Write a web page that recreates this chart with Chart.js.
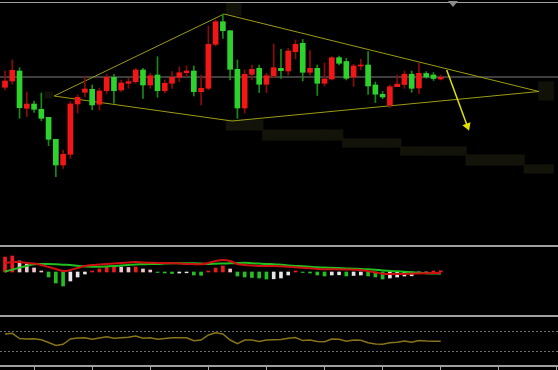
<!DOCTYPE html>
<html>
<head>
<meta charset="utf-8">
<script src="https://cdn.jsdelivr.net/npm/chart.js@4.4.1/dist/chart.umd.min.js"></script>
<style>
  html, body { margin: 0; padding: 0; background: #000; }
  #wrap { position: relative; width: 558px; height: 370px; background: #000; overflow: hidden; }
  #wrap canvas { position: absolute; left: 0; }
  .sep { position: absolute; left: 0; width: 558px; background: #a0a0a0; }
  .marker { position: absolute; left: 448px; top: 1px; width: 0; height: 0;
    border-left: 5px solid transparent; border-right: 5px solid transparent; border-top: 6px solid #8c8c8c; }
</style>
</head>
<body>
<div id="wrap">
  <canvas id="mainChart" width="558" height="245" style="top:0"></canvas>
  <canvas id="macdChart" width="558" height="68" style="top:247px"></canvas>
  <canvas id="oscChart" width="558" height="53" style="top:317px"></canvas>
  <div class="sep" style="top:2px;height:1px"></div>
  <div class="sep" style="top:245px;height:2px"></div>
  <div class="sep" style="top:315px;height:2px"></div>
  <div class="marker"></div>
</div>
<script>
// candles, one per session
const opens  = [35.77, 36.4, 37.4, 33.67, 34.1, 33.57, 32.77, 30.57, 28.0, 29.07,
                34.1, 35.27, 35.57, 34.07, 35.43, 36.77, 35.5, 36.17, 36.33, 37.5,
                36.0, 37.0, 35.43, 36.17, 36.77, 37.23, 37.4, 35.33, 35.67, 40.07,
                42.33, 41.43, 37.57, 33.7, 37.07, 37.67, 36.07, 36.93, 37.67, 37.4,
                39.33, 40.17, 37.27, 37.67, 36.17, 36.6, 38.73, 38.35, 36.8, 37.9,
                38.0, 36.0, 35.07, 34.0, 35.83, 36.05, 37.08, 35.7, 37.15, 37.0, 36.6];
const highs  = [37.4, 38.5, 37.73, 35.3, 34.4, 35.2, 32.77, 30.57, 29.5, 34.33,
                35.0, 36.83, 36.0, 35.7, 37.07, 37.07, 36.5, 36.67, 37.67, 37.67,
                37.17, 38.83, 36.5, 37.33, 37.83, 37.9, 37.9, 37.0, 41.9, 42.5,
                43.1, 41.43, 38.5, 37.5, 38.0, 38.0, 37.17, 40.1, 39.57, 39.65,
                40.5, 40.55, 39.45, 38.0, 38.2, 38.83, 38.9, 38.67, 38.07, 38.57,
                39.35, 36.3, 35.35, 36.0, 37.0, 37.4, 37.4, 38.2, 37.33, 37.25, 37.0];
const lows   = [35.5, 36.1, 32.67, 32.83, 33.27, 32.43, 29.93, 26.83, 27.67, 28.67,
                33.2, 34.83, 33.5, 33.5, 35.17, 34.17, 35.33, 35.67, 36.17, 34.67,
                35.67, 34.77, 35.2, 35.67, 36.33, 36.83, 34.9, 34.0, 35.5, 39.9,
                40.67, 36.5, 32.67, 33.2, 36.5, 35.25, 35.25, 36.7, 36.67, 37.0,
                38.6, 36.4, 37.0, 34.95, 35.9, 36.5, 38.0, 36.5, 35.85, 37.5,
                35.05, 34.25, 34.63, 33.73, 35.83, 35.67, 35.27, 35.17, 36.67, 36.45, 36.5];
const closes = [36.4, 37.47, 33.73, 34.1, 33.57, 32.67, 30.57, 28.0, 29.07, 34.1,
                34.77, 35.6, 34.0, 35.4, 36.77, 35.43, 36.2, 36.33, 37.5, 36.0,
                36.93, 35.43, 36.17, 36.77, 37.23, 37.4, 35.33, 35.67, 40.07, 42.33,
                41.43, 37.57, 33.7, 37.07, 37.57, 36.07, 36.93, 37.73, 37.43, 39.4,
                40.07, 37.27, 37.67, 36.17, 36.6, 38.73, 38.17, 36.67, 37.9, 38.0,
                35.9, 35.08, 34.8, 35.83, 36.08, 37.08, 35.67, 37.17, 36.8, 36.65, 36.77];

// drawn level and pattern
const levelPrice = 36.8;
const triangleIndex = [6.75, 30.16, 73.53, 31.26, 6.75];
const trianglePrice = [34.9, 43.1, 35.35, 32.4, 34.9];
const arrowIndex = [60.82, 63.66];
const arrowPrice = [37.5, 31.9];

// shaded projection band (steps)
const bandFrom = [31, 36, 47, 55, 64, 72];
const bandTo   = [35, 46, 54, 63, 71, 75];
const bandLow  = [31.5, 30.5, 29.8, 29.0, 28.0, 27.2];
const bandHigh = [32.5, 31.5, 30.6, 29.8, 29.0, 28.0];

// faint shadows at the pattern corners
const spotIndex = [6, 31, 32, 74, 75];
const spotLow   = [34.7, 43.0, 43.0, 34.5, 34.5];
const spotHigh  = [35.3, 44.2, 44.2, 36.3, 36.3];

// MACD pane
const macdHist = [0.15, 0.16, 0.11, 0.08, 0.04, 0.01, -0.05, -0.11, -0.14, -0.09,
                  -0.05, -0.02, 0.01, 0.03, 0.05, 0.055, 0.05, 0.045, 0.05, 0.03,
                  0.02, -0.005, -0.01, -0.015, -0.01, -0.008, -0.03, -0.033, 0.01, 0.04,
                  0.06, 0.03, -0.04, -0.05, -0.055, -0.06, -0.07, -0.068, -0.06, -0.03,
                  0.01, -0.005, -0.01, -0.03, -0.04, -0.03, -0.028, -0.04, -0.035, -0.03,
                  -0.04, -0.05, -0.07, -0.06, -0.05, -0.04, -0.038, -0.01, -0.008, 0.01, 0.012];
const macdDif = [0.09, 0.10, 0.10, 0.09, 0.085, 0.07, 0.05, 0.03, 0.01, 0.02,
                 0.04, 0.06, 0.07, 0.075, 0.08, 0.085, 0.09, 0.095, 0.1, 0.095,
                 0.093, 0.09, 0.09, 0.087, 0.085, 0.08, 0.079, 0.077, 0.09, 0.11,
                 0.12, 0.11, 0.08, 0.07, 0.064, 0.06, 0.06, 0.06, 0.057, 0.053,
                 0.047, 0.042, 0.037, 0.031, 0.027, 0.027, 0.027, 0.025, 0.023, 0.02,
                 0.008, -0.004, -0.017, -0.02, -0.02, -0.02, -0.017, -0.014, -0.012, -0.011, -0.01];
const macdDea = [0.003, 0.024, 0.044, 0.061, 0.077, 0.079, 0.08, 0.077, 0.073, 0.07,
                 0.062, 0.055, 0.053, 0.053, 0.056, 0.059, 0.065, 0.071, 0.076, 0.078,
                 0.08, 0.08, 0.084, 0.087, 0.087, 0.087, 0.087, 0.084, 0.08, 0.083,
                 0.085, 0.087, 0.09, 0.092, 0.088, 0.084, 0.08, 0.078, 0.072, 0.066,
                 0.061, 0.057, 0.052, 0.047, 0.044, 0.042, 0.039, 0.036, 0.033, 0.031,
                 0.028, 0.023, 0.016, 0.01, 0.007, 0.003, -0.002, -0.008, -0.013, -0.015, -0.017];

// oscillator pane
const oscValues = [71, 73.1, 57.5, 56, 56.9, 53.9, 45.5, 36.5, 40.1, 56,
                   59, 59.6, 55.1, 59, 62.9, 58.4, 59.6, 61.1, 65, 58.1,
                   59.9, 55.1, 57.5, 59.9, 59.9, 59.9, 50.6, 53, 68, 74.6,
                   71, 53, 41.9, 53, 53, 48.5, 53, 53.6, 54.5, 58.1,
                   60.5, 51.2, 53, 48.2, 47.9, 56, 55.1, 49.1, 53, 52.1,
                   44.9, 41.3, 40.1, 44.9, 46.1, 50, 46.1, 51.8, 50, 49.1, 49.1];
const oscLevels = [20, 80];

// time ticks on the bottom axis
const tickIndex = [4, 12, 20, 28, 36, 44, 52, 60, 68, 76];

const xMin = -0.69;
const xMax = 76.15;

const upColor = '#f21616';
const downColor = '#2dd22d';
const upWick = '#8e0a0a';
const downWick = '#168c16';

function isUp(i) {
  return closes[i] >= opens[i];
}

function xScale(show) {
  return {
    type: 'linear',
    min: xMin,
    max: xMax,
    offset: false,
    display: show,
    afterBuildTicks: function(axis) {
      axis.ticks = tickIndex.map(v => ({ value: v }));
    },
    ticks: { display: false },
    grid: { offset: false, drawOnChartArea: false, drawTicks: true, tickLength: 4, color: '#a8a8a8', lineWidth: 1 },
    border: { display: true, color: '#a0a0a0', width: 2 }
  };
}

const baseOptions = {
  responsive: false,
  animation: false,
  events: [],
  layout: { padding: 0, autoPadding: false },
  plugins: { legend: { display: false }, tooltip: { enabled: false } }
};

// main price pane
const bandData = [];
for (let k = 0; k < bandFrom.length; k++) {
  for (let i = bandFrom[k]; i <= bandTo[k]; i++) {
    bandData.push({ x: i, y: [bandLow[k], bandHigh[k]] });
  }
}
const spotData = spotIndex.map((x, i) => ({ x: x, y: [spotLow[i], spotHigh[i]] }));
const wickData = opens.map((o, i) => ({ x: i, y: [lows[i], highs[i]] }));
const bodyData = opens.map((o, i) => ({ x: i, y: [o, closes[i]] }));

new Chart('mainChart', {
  type: 'bar',
  data: {
    datasets: [
      {
        label: 'band', data: bandData, order: 7, grouped: false,
        backgroundColor: '#13130a', barPercentage: 1, categoryPercentage: 1, inflateAmount: 0.6
      },
      {
        label: 'spots', data: spotData, order: 6, grouped: false,
        backgroundColor: '#111108', barPercentage: 1, categoryPercentage: 1, inflateAmount: 0.6
      },
      {
        type: 'line', label: 'level', order: 5,
        data: [{ x: xMin, y: levelPrice }, { x: xMax, y: levelPrice }],
        borderColor: '#7c7c7c', borderWidth: 1, pointRadius: 0
      },
      {
        type: 'line', label: 'triangle', order: 4,
        data: triangleIndex.map((x, i) => ({ x: x, y: trianglePrice[i] })),
        borderColor: '#9c9c14', borderWidth: 1, pointRadius: 0, tension: 0
      },
      {
        label: 'wick', data: wickData, order: 3, grouped: false, barThickness: 1,
        backgroundColor: ctx => isUp(ctx.dataIndex) ? upWick : downWick
      },
      {
        label: 'body', data: bodyData, order: 2, grouped: false, barThickness: 5, minBarLength: 1,
        backgroundColor: ctx => isUp(ctx.dataIndex) ? upColor : downColor
      },
      {
        type: 'line', label: 'arrow', order: 1,
        data: arrowIndex.map((x, i) => ({ x: x, y: arrowPrice[i] })),
        borderColor: '#e2e200', backgroundColor: '#e2e200', borderWidth: 1.5,
        pointRadius: [0, 3.5], pointStyle: 'triangle', pointRotation: 160
      }
    ]
  },
  options: Object.assign({}, baseOptions, {
    scales: {
      x: xScale(false),
      y: { type: 'linear', min: 20, max: 44.5, display: false }
    }
  })
});

// MACD pane
function histColor(ctx) {
  const i = ctx.dataIndex;
  const v = macdHist[i];
  const prev = i > 0 ? macdHist[i - 1] : v;
  if (v >= 0) return v >= prev ? '#ee1c1c' : '#f3c4cc';
  return v < prev ? '#22c022' : '#e6e6e6';
}

new Chart('macdChart', {
  type: 'bar',
  data: {
    datasets: [
      {
        type: 'line', label: 'DIF', order: 1,
        data: macdDif.map((v, i) => ({ x: i, y: v })),
        borderColor: '#d01010', borderWidth: 2, pointRadius: 0, tension: 0.3
      },
      {
        type: 'line', label: 'DEA', order: 2,
        data: macdDea.map((v, i) => ({ x: i, y: v })),
        borderColor: '#20c020', borderWidth: 2, pointRadius: 0, tension: 0.3
      },
      {
        label: 'MACD', order: 3, grouped: false, barThickness: 3,
        data: macdHist.map((v, i) => ({ x: i, y: v })),
        backgroundColor: histColor
      }
    ]
  },
  options: Object.assign({}, baseOptions, {
    scales: {
      x: xScale(false),
      y: { type: 'linear', min: -0.43, max: 0.25, display: false }
    }
  })
});

// oscillator pane
new Chart('oscChart', {
  type: 'line',
  data: {
    datasets: [
      {
        label: 'osc',
        data: oscValues.map((v, i) => ({ x: i, y: v })),
        borderColor: '#87741a', borderWidth: 1.5, pointRadius: 0, tension: 0
      }
    ]
  },
  options: Object.assign({}, baseOptions, {
    scales: {
      x: xScale(true),
      y: {
        type: 'linear', min: -25, max: 122, display: true,
        afterBuildTicks: function(axis) {
          axis.ticks = oscLevels.map(v => ({ value: v }));
        },
        ticks: { display: false },
        grid: { drawTicks: false, color: '#6e6e6e', lineWidth: 1 },
        border: { display: false, dash: [2, 2] }
      }
    }
  })
});
</script>
</body>
</html>
